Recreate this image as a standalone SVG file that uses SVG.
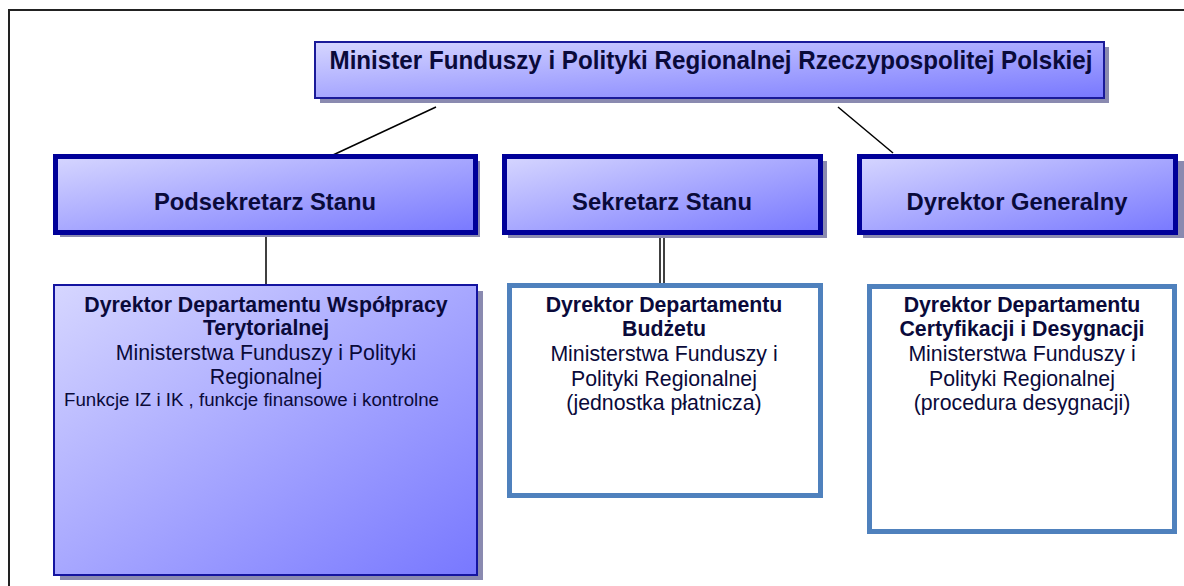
<svg xmlns="http://www.w3.org/2000/svg" width="1184" height="586" viewBox="0 0 1184 586">
<defs>
<linearGradient id="g" x1="0" y1="0" x2="1" y2="1">
<stop offset="0" stop-color="#d6d6ff"/>
<stop offset="1" stop-color="#7878ff"/>
</linearGradient>
<style>
text{font-family:"Liberation Sans",Arial,sans-serif;fill:#0a0a3a}
.b{font-weight:bold}
.t2{font-size:23.8px;font-weight:bold;text-anchor:middle}
.t3{font-size:21.3px;text-anchor:middle}
.sh{fill:#8a8ab0}
.lvl2{fill:url(#g);stroke:#000099;stroke-width:5}
.wb{fill:#ffffff;stroke:#4f81bd;stroke-width:5}
.c{stroke:#000;stroke-width:1.5;fill:none}
</style>
</defs>
<rect x="0" y="0" width="1184" height="586" fill="#ffffff"/>
<path d="M9,586 V10 H1184" fill="none" stroke="#222" stroke-width="2"/>

<g id="connectors">
<line class="c" x1="436" y1="107" x2="333" y2="155"/>
<line class="c" x1="838" y1="107" x2="893" y2="153"/>
<line class="c" x1="266" y1="234" x2="266" y2="285"/>
<line class="c" x1="660" y1="234" x2="660" y2="284"/>
<line class="c" x1="664" y1="234" x2="664" y2="284"/>
</g>

<g id="minister">
<rect class="sh" x="320" y="47" width="789" height="56"/>
<rect x="315" y="42" width="789" height="56" fill="url(#g)" stroke="#1a1a99" stroke-width="2"/>
<text class="b" x="711" y="69" font-size="26" text-anchor="middle" textLength="763" lengthAdjust="spacingAndGlyphs" style="font-family:'Liberation Sans Narrow','Liberation Sans',sans-serif">Minister Funduszy i Polityki Regionalnej Rzeczypospolitej Polskiej</text>
</g>

<g id="podsekretarz">
<rect class="sh" x="60" y="161" width="420" height="76"/>
<rect class="lvl2" x="55.5" y="156.5" width="420" height="76"/>
<text class="t2" x="265" y="210">Podsekretarz Stanu</text>
</g>

<g id="sekretarz">
<rect class="sh" x="508" y="161" width="319" height="77"/>
<rect class="lvl2" x="504.5" y="156.5" width="316" height="76"/>
<text class="t2" x="662" y="210">Sekretarz Stanu</text>
</g>

<g id="dyrektor-generalny">
<rect class="sh" x="863" y="161" width="321" height="77"/>
<rect class="lvl2" x="859.5" y="156.5" width="316" height="76"/>
<text class="t2" x="1017" y="210">Dyrektor Generalny</text>
</g>

<g id="dep-wspolpracy">
<rect class="sh" x="60" y="291" width="423" height="289"/>
<rect x="54" y="285" width="423" height="290" fill="url(#g)" stroke="#1414a0" stroke-width="2"/>
<text class="t3 b" x="266" y="312">Dyrektor Departamentu Współpracy</text>
<text class="t3 b" x="266" y="335">Terytorialnej</text>
<text class="t3" x="266" y="360">Ministerstwa Funduszy i Polityki</text>
<text class="t3" x="266" y="384">Regionalnej</text>
<text x="64" y="406" font-size="18.7">Funkcje IZ i IK , funkcje finansowe i kontrolne</text>
</g>

<g id="dep-budzetu">
<rect class="wb" x="509.5" y="285.5" width="311" height="210"/>
<text class="t3 b" x="664" y="312">Dyrektor Departamentu</text>
<text class="t3 b" x="664" y="336">Budżetu</text>
<text class="t3" x="664" y="361">Ministerstwa Funduszy i</text>
<text class="t3" x="664" y="386">Polityki Regionalnej</text>
<text class="t3" x="664" y="410">(jednostka płatnicza)</text>
</g>

<g id="dep-certyfikacji">
<rect class="wb" x="869.5" y="286.5" width="305" height="245"/>
<text class="t3 b" x="1022" y="312">Dyrektor Departamentu</text>
<text class="t3 b" x="1022" y="336">Certyfikacji i Desygnacji</text>
<text class="t3" x="1022" y="361">Ministerstwa Funduszy i</text>
<text class="t3" x="1022" y="386">Polityki Regionalnej</text>
<text class="t3" x="1022" y="410">(procedura desygnacji)</text>
</g>
</svg>
